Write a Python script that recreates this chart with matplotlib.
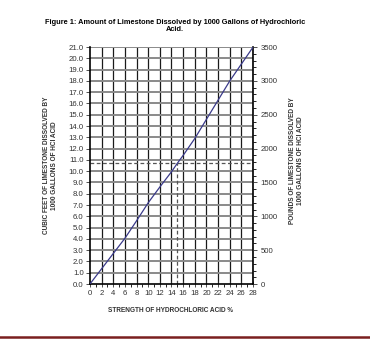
import matplotlib
matplotlib.use('Agg')
import matplotlib.pyplot as plt
import numpy as np
from matplotlib.ticker import MultipleLocator
from matplotlib.lines import Line2D

plt.rcParams['font.family'] = ['Liberation Sans', 'DejaVu Sans']

# acid strength (%) vs cubic feet of limestone dissolved
strength = [0, 2, 4, 6, 8, 10, 12, 14, 15, 16, 18, 20, 22, 24, 26, 28]
cubic_feet = [0, 1.35, 2.7, 4.05, 5.6, 7.2, 8.6, 9.95, 10.7, 11.4, 12.9,
              14.6, 16.3, 18.0, 19.5, 21.0]
ref_strength = 15
ref_cubic_feet = 10.7
pounds_per_cuft = 3500 / 21.0

fig = plt.figure(figsize=(3.7, 3.41), dpi=100)
ax = fig.add_axes([0.243, 0.167, 0.441, 0.695])

ax.set_xlim(0, 28)
ax.set_ylim(0, 21)

# grid
for x in range(2, 29, 2):
    ax.axvline(x, color='#1a1a1a', lw=0.9, zorder=1)
for y in range(1, 22):
    ax.axhline(y, color='#8a8a8a', lw=1.4, zorder=1)

ax.plot(strength, cubic_feet, color='#3a3a8a', lw=0.9, zorder=3)
ax.plot([0, 28], [ref_cubic_feet, ref_cubic_feet], color='#555555',
        lw=0.9, ls=(0, (3, 2)), zorder=2)
ax.plot([ref_strength, ref_strength], [0, ref_cubic_feet], color='#555555',
        lw=0.9, ls=(0, (3, 2)), zorder=2)

ax.spines['top'].set_visible(False)
for s in ['left', 'right', 'bottom']:
    ax.spines[s].set_linewidth(1.2)

ax.xaxis.set_major_locator(MultipleLocator(2))
ax.xaxis.set_minor_locator(MultipleLocator(1))
ax.set_yticks(np.arange(0, 22, 1))
ax.set_yticklabels(['{:.1f}'.format(v) for v in np.arange(0, 22, 1)])
ax.tick_params(axis='both', labelsize=5.6, colors='#333333', length=3, width=0.6, pad=1.5)
ax.tick_params(axis='x', which='minor', length=2, width=0.6)
ax.tick_params(axis='x', direction='inout', length=4, pad=2.5)

ax2 = ax.twinx()
ax2.set_ylim(0, 21 * pounds_per_cuft)
ax2.yaxis.set_major_locator(MultipleLocator(500))
ax2.yaxis.set_minor_locator(MultipleLocator(100))
ax2.tick_params(axis='y', labelsize=5.6, colors='#333333', length=3, width=0.6, pad=2.5)
ax2.tick_params(axis='y', which='minor', length=2, width=0.6)
for s in ax2.spines.values():
    s.set_visible(False)

fig.text(0.473, 0.925, 'Figure 1: Amount of Limestone Dissolved by 1000 Gallons of Hydrochloric\nAcid.',
         ha='center', va='center', fontsize=5.3, fontweight='bold', linespacing=1.0)
fig.text(0.137, 0.515, 'CUBIC FEET OF LIMESTONE DISSOLVED BY\n1000 GALLONS OF HCl ACID',
         ha='center', va='center', rotation=90, fontsize=4.7, fontweight='bold', color='#333333')
fig.text(0.80, 0.53, 'POUNDS OF LIMESTONE DISSOLVED BY\n1000 GALLONS OF HCl ACID',
         ha='center', va='center', rotation=90, fontsize=4.7, fontweight='bold', color='#333333')
fig.text(0.46, 0.088, 'STRENGTH OF HYDROCHLORIC ACID %', ha='center', va='center',
         fontsize=4.7, fontweight='bold', color='#333333')

fig.add_artist(Line2D([0, 1], [0.013, 0.013], color='#7a1f1f', lw=1.8))

fig.savefig('out.png', dpi=100)
